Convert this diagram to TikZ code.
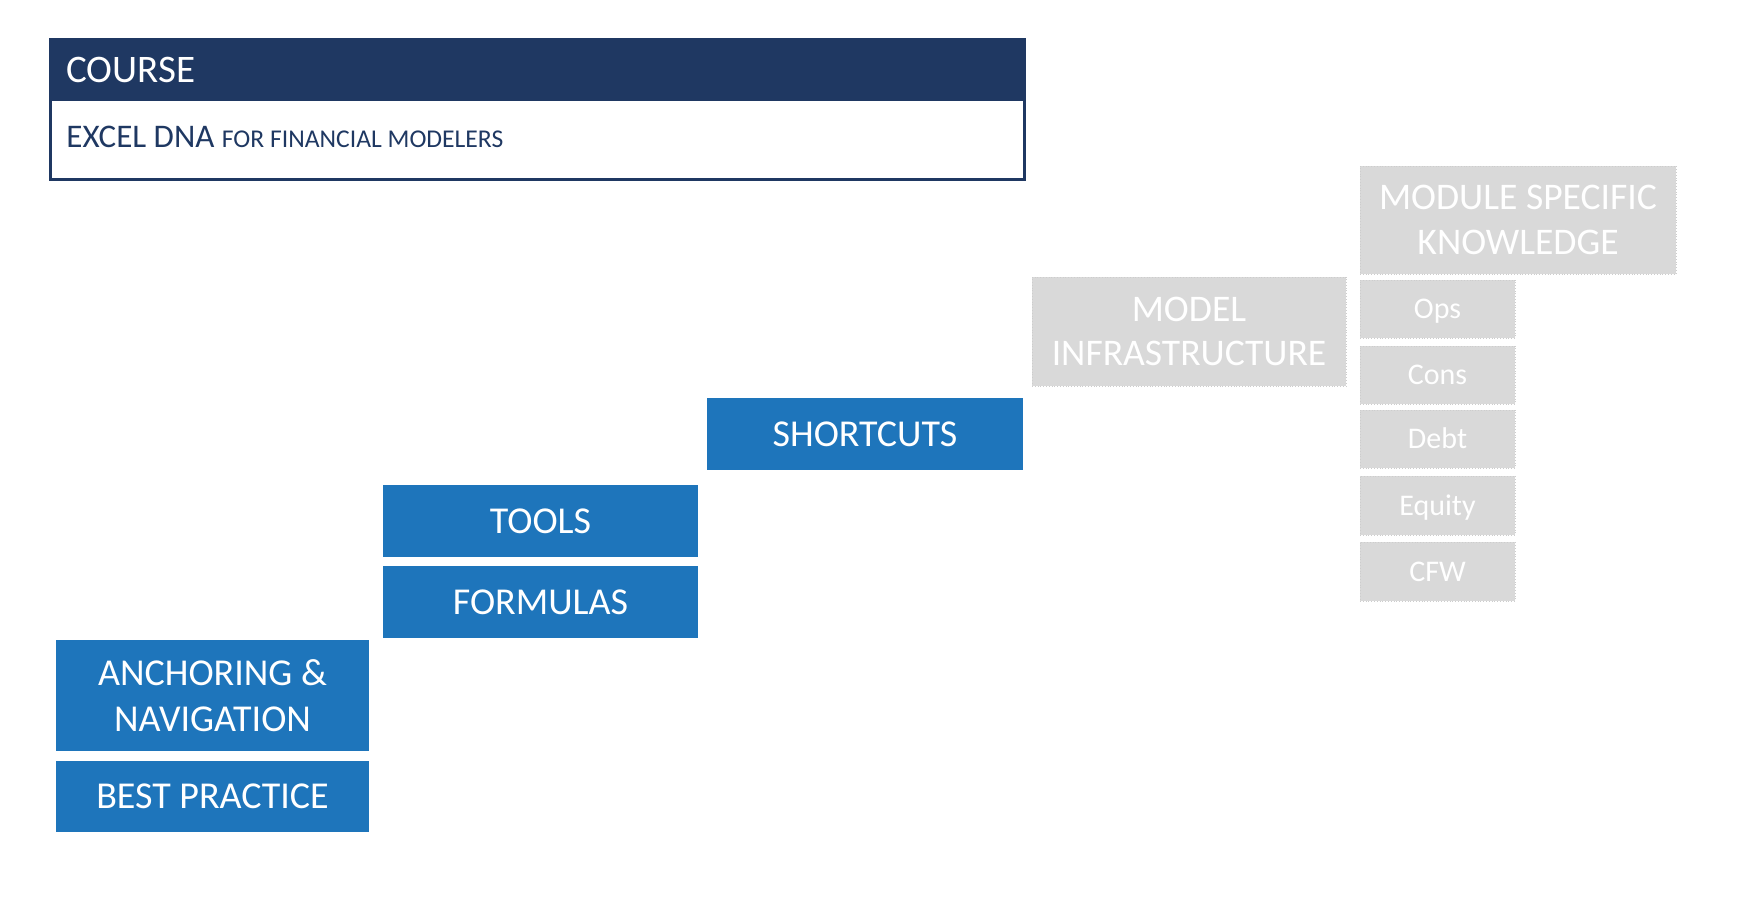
\documentclass[tikz,border=0pt]{standalone}
\usepackage{fontspec}
\setmainfont{Carlito}
\definecolor{navy}{RGB}{31,56,98}
\definecolor{stepblue}{RGB}{30,117,187}
\definecolor{stepgray}{RGB}{217,217,217}
\definecolor{graybord}{RGB}{205,205,205}
\tikzset{
  bluebox/.style={fill=stepblue, text=white, inner sep=0pt, align=center,
    font=\fontsize{19}{22.8}\selectfont},
  graybox/.style={fill=stepgray, draw=graybord, densely dotted, line width=0.4pt, text=white, inner sep=0pt, align=center,
    font=\fontsize{18.8}{22.3}\selectfont},
  smallgray/.style={graybox, font=\fontsize{15}{18}\selectfont, text height=9.6pt, text depth=0pt},
}
\begin{document}
\begin{tikzpicture}[x=0.5pt,y=-0.5pt]
\useasboundingbox (0,0) rectangle (1744,923);
% course box
\path[fill=navy] (50,39) rectangle (1024,101);
\node[draw=navy, line width=1.5pt, minimum width=487pt, minimum height=70pt, inner sep=0pt] (course) at (537,109) {};
\node[anchor=west, text=white, inner sep=0pt, font=\fontsize{19.5}{24}\selectfont] (coursetitle) at (66,70) {COURSE};
\node[anchor=base west, text=navy, inner sep=0pt, font=\fontsize{16.5}{20}\selectfont] (coursename) at (66,147) {EXCEL DNA {\fontsize{12.8}{16}\selectfont FOR FINANCIAL MODELERS}};
% blue steps
\node[bluebox, minimum width=156.5pt, minimum height=55.5pt] (anchor) at (212.5,695.5) {ANCHORING \&\\NAVIGATION};
\node[bluebox, minimum width=156.5pt, minimum height=35.5pt] (best) at (212.5,796.5) {BEST PRACTICE};
\node[bluebox, minimum width=157.5pt, minimum height=36pt] (tools) at (540.5,521) {TOOLS};
\node[bluebox, minimum width=157.5pt, minimum height=36pt] (formulas) at (540.5,602) {FORMULAS};
\node[bluebox, minimum width=158pt, minimum height=36pt] (shortcuts) at (865,434) {SHORTCUTS};
% gray steps
\node[graybox, minimum width=157pt, minimum height=54.5pt] (model) at (1189,331.5) {MODEL\\INFRASTRUCTURE};
\node[graybox, minimum width=158pt, minimum height=54pt] (module) at (1518,220) {MODULE SPECIFIC\\KNOWLEDGE};
\node[smallgray, minimum width=77.5pt, minimum height=29pt] (ops) at (1437.5,309) {Ops};
\node[smallgray, minimum width=77.5pt, minimum height=29pt] (cons) at (1437.5,375) {Cons};
\node[smallgray, minimum width=77.5pt, minimum height=29pt] (debt) at (1437.5,439) {Debt};
\node[smallgray, minimum width=77.5pt, minimum height=29.5pt] (equity) at (1437.5,505.5) {Equity};
\node[smallgray, minimum width=77.5pt, minimum height=29.5pt] (cfw) at (1437.5,571.5) {CFW};
\end{tikzpicture}
\end{document}
